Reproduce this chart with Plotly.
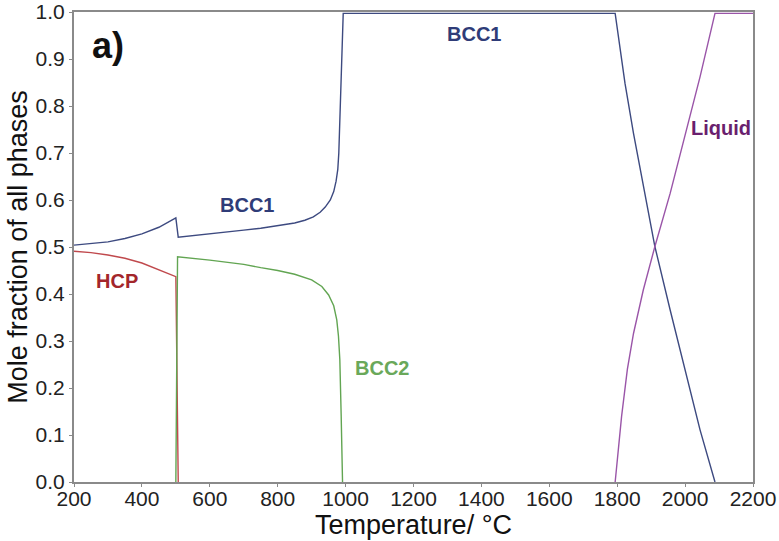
import plotly.graph_objects as go

# Temperature (°C) and mole fraction data
bcc1_T = [200, 250, 300, 350, 400, 450, 500, 507, 550, 600, 650, 700, 750, 800, 850, 880, 905, 925,
          940, 955, 965, 972, 977, 980, 986, 993,
          1794, 1823, 1848, 1877, 1911, 1956, 2005, 2044, 2088]
bcc1_y = [0.504, 0.507, 0.511, 0.518, 0.528, 0.542, 0.562, 0.521, 0.524, 0.528, 0.532, 0.536, 0.540,
          0.545, 0.551, 0.557, 0.564, 0.574, 0.585, 0.600, 0.618, 0.640, 0.665, 0.700, 0.84, 0.997,
          0.997, 0.848, 0.742, 0.628, 0.501, 0.366, 0.224, 0.111, 0.0]

hcp_T = [200, 250, 300, 350, 400, 450, 500, 507]
hcp_y = [0.491, 0.488, 0.483, 0.476, 0.466, 0.452, 0.437, 0.0]

bcc2_T = [500, 505, 600, 700, 750, 800, 850, 900, 930, 950, 965, 974, 979, 983, 987, 991]
bcc2_y = [0.0, 0.479, 0.472, 0.463, 0.456, 0.450, 0.442, 0.430, 0.416, 0.398, 0.375, 0.345, 0.31,
          0.26, 0.14, 0.0]

liquid_T = [1794, 1813, 1830, 1848, 1877, 1911, 1956, 2009, 2044, 2088, 2200]
liquid_y = [0.0, 0.14, 0.24, 0.316, 0.409, 0.501, 0.614, 0.763, 0.862, 0.997, 0.997]

x_ticks = [200, 400, 600, 800, 1000, 1200, 1400, 1600, 1800, 2000, 2200]
y_ticks = [0.0, 0.1, 0.2, 0.3, 0.4, 0.5, 0.6, 0.7, 0.8, 0.9, 1.0]

labels = [
    ("BCC1", 1378, 0.953, "#2f3c78"),
    ("BCC1", 710, 0.589, "#2f3c78"),
    ("HCP", 327, 0.428, "#a3262b"),
    ("BCC2", 1107, 0.243, "#6aa85a"),
    ("Liquid", 2106, 0.753, "#6a1f6e"),
]

FONT = "Liberation Sans, Arial, sans-serif"

fig = go.Figure()
line_w = 1.4
fig.add_trace(go.Scatter(x=bcc1_T, y=bcc1_y, mode="lines", line=dict(color="#3d4a80", width=line_w), name="BCC1"))
fig.add_trace(go.Scatter(x=hcp_T, y=hcp_y, mode="lines", line=dict(color="#c0494d", width=line_w), name="HCP"))
fig.add_trace(go.Scatter(x=bcc2_T, y=bcc2_y, mode="lines", line=dict(color="#62a552", width=line_w), name="BCC2"))
fig.add_trace(go.Scatter(x=liquid_T, y=liquid_y, mode="lines", line=dict(color="#9a55a8", width=line_w), name="Liquid"))

for text, x, y, c in labels:
    fig.add_annotation(x=x, y=y, text="<b>%s</b>" % text, showarrow=False,
                       xanchor="center", yanchor="middle",
                       font=dict(family=FONT, size=20, color=c))

fig.add_annotation(x=(108 - 74) / (753 - 74), y=(482 - 45) / (482 - 12), xref="paper", yref="paper",
                   text="<b>a)</b>", showarrow=False, xanchor="center", yanchor="middle",
                   font=dict(family=FONT, size=36, color="#111111"))

axis_common = dict(showline=True, linecolor="#8a8a8a", linewidth=2, mirror=True, showgrid=False,
                   zeroline=False, ticks="outside", ticklen=3, tickcolor="#8a8a8a", tickwidth=1,
                   automargin=False)

fig.update_layout(
    width=779, height=541,
    margin=dict(l=74, r=26, t=12, b=59),
    paper_bgcolor="white", plot_bgcolor="white",
    showlegend=False,
    xaxis=dict(range=[200, 2200], tickvals=x_ticks, ticktext=[str(v) for v in x_ticks],
               tickfont=dict(family=FONT, size=21, color="#222222"), ticklabelstandoff=-6,
               title=dict(text="Temperature/ °C", font=dict(family=FONT, size=27, color="#111111"), standoff=0),
               **axis_common),
    yaxis=dict(range=[0, 1.0], tickvals=y_ticks, ticktext=["%.1f" % v for v in y_ticks],
               tickfont=dict(family=FONT, size=21, color="#222222"),
               title=dict(text="Mole fraction of all phases", font=dict(family=FONT, size=27, color="#111111"), standoff=0),
               **axis_common),
)

fig.write_html("out.html", config={"displayModeBar": False},
               post_script="document.body.style.margin='0';")
